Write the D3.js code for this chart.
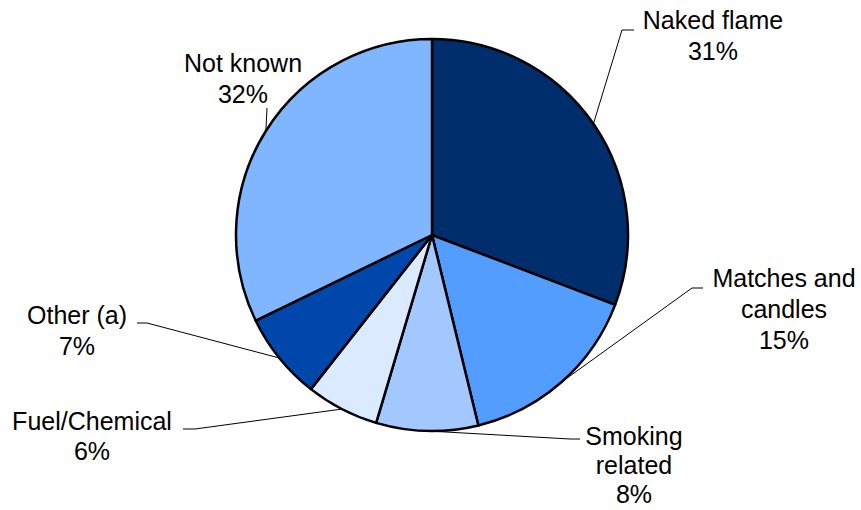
<!DOCTYPE html>
<html>
<head>
<meta charset="utf-8">
<script src="https://cdn.jsdelivr.net/npm/d3@7"></script>
<style>
  html, body { margin: 0; padding: 0; background: #fff; }
  svg { display: block; }
  text { font-family: "Liberation Sans", Arial, sans-serif; font-size: 25px; fill: #000; }
</style>
</head>
<body>
<svg id="chart" width="861" height="510"></svg>
<script>
// Data
const categories = ["Naked flame", "Matches and candles", "Smoking related", "Fuel/Chemical", "Other (a)", "Not known"];
const values = [30.8, 15.4, 8.4, 6.0, 7.2, 32.2];
const colors = ["#002D6B", "#529DFF", "#A3C8FF", "#DCEAFF", "#0047AB", "#80B5FF"];
const labelLines = [["Naked flame"], ["Matches and", "candles"], ["Smoking", "related"], ["Fuel/Chemical"], ["Other (a)"], ["Not known"]];

// Layout (positions of labels and leader-line elbows)
const layout = [
  { lx: 713, ly: 29,  lh: 31, elbow: [622, 30],  end: [634, 30] },
  { lx: 784, ly: 287, lh: 31, elbow: [692, 288], end: [703, 288] },
  { lx: 634, ly: 445, lh: 29, elbow: [570, 439], end: [580, 439] },
  { lx: 92,  ly: 430, lh: 30, elbow: [195, 429], end: [183, 429] },
  { lx: 77,  ly: 324, lh: 31, elbow: [147, 323], end: [137, 323] },
  { lx: 243, ly: 72,  lh: 31, elbow: [267, 108], end: [267, 108] }
];

const cx = 432, cy = 235, radius = 196;
const svg = d3.select("#chart");
const g = svg.append("g").attr("transform", `translate(${cx},${cy})`);

const pie = d3.pie().sort(null).value(d => d.value).startAngle(0).endAngle(2 * Math.PI);
const data = categories.map((c, i) => ({ name: c, value: values[i], color: colors[i], lines: labelLines[i], pos: layout[i] }));
const arcs = pie(data);
const arc = d3.arc().innerRadius(0).outerRadius(radius);
const fmt = d3.format(".0f");

g.selectAll("path.slice")
  .data(arcs)
  .enter().append("path")
  .attr("class", "slice")
  .attr("d", arc)
  .attr("fill", d => d.data.color)
  .attr("stroke", "#000")
  .attr("stroke-width", 2.5)
  .attr("stroke-linejoin", "round");

// Leader lines
const edgeArc = d3.arc().innerRadius(radius).outerRadius(radius);
svg.selectAll("polyline.leader")
  .data(arcs)
  .enter().append("polyline")
  .attr("class", "leader")
  .attr("points", d => {
    const [ex, ey] = edgeArc.centroid(d);
    const p = d.data.pos;
    return [[ex + cx, ey + cy], p.elbow, p.end].map(q => q.join(",")).join(" ");
  })
  .attr("fill", "none")
  .attr("stroke", "#000")
  .attr("stroke-width", 1);

// Labels
const lbl = svg.selectAll("text.label")
  .data(arcs)
  .enter().append("text")
  .attr("class", "label")
  .attr("text-anchor", "middle")
  .attr("x", d => d.data.pos.lx)
  .attr("y", d => d.data.pos.ly);

lbl.each(function(d) {
  const t = d3.select(this);
  const lines = d.data.lines.concat([fmt(d.data.value) + "%"]);
  lines.forEach((s, i) => {
    t.append("tspan")
      .attr("x", d.data.pos.lx)
      .attr("y", d.data.pos.ly + i * d.data.pos.lh)
      .text(s);
  });
});
</script>
</body>
</html>
